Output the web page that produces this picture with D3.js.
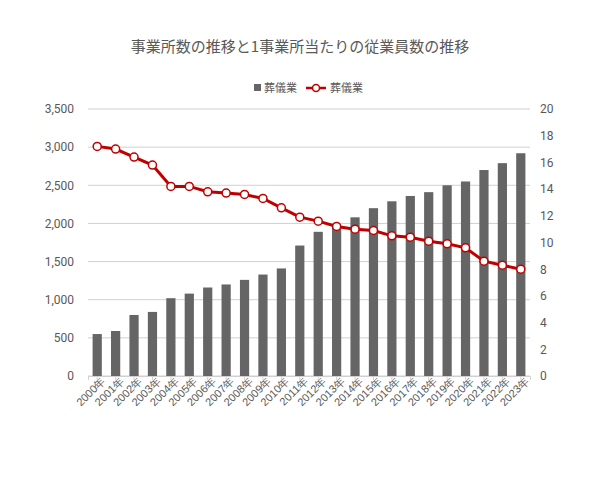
<!DOCTYPE html>
<html><head><meta charset="utf-8">
<script src="https://cdn.jsdelivr.net/npm/d3@7"></script>
<style>body{margin:0;background:#fff;font-family:"Noto Sans CJK JP","Noto Sans",sans-serif;}</style>
</head><body>
<svg id="chart" width="600" height="480"></svg>
<script>
const years = ["2000年","2001年","2002年","2003年","2004年","2005年","2006年","2007年","2008年","2009年","2010年","2011年","2012年","2013年","2014年","2015年","2016年","2017年","2018年","2019年","2020年","2021年","2022年","2023年"];
const offices = [550,590,800,840,1020,1080,1160,1200,1260,1330,1410,1710,1890,1970,2080,2200,2290,2360,2410,2500,2550,2700,2790,2920];
const perOffice = [17.2,17.0,16.4,15.8,14.2,14.2,13.8,13.7,13.6,13.3,12.6,11.9,11.6,11.2,11.0,10.9,10.5,10.4,10.1,9.9,9.6,8.6,8.3,8.0];
const leftTicks = [0,500,1000,1500,2000,2500,3000,3500];
const rightTicks = [0,2,4,6,8,10,12,14,16,18,20];

const svg = d3.select("#chart");
const mLeft = 88, mRight = 530, mTop = 109, mBottom = 376;

//Scales
const x = d3.scaleBand().domain(years).range([mLeft, mRight]).paddingInner(0.5).paddingOuter(0.25);
const yL = d3.scaleLinear().domain([0, 3500]).range([mBottom, mTop]);
const yR = d3.scaleLinear().domain([0, 20]).range([mBottom, mTop]);

//Title
svg.append("text").attr("x", 300).attr("y", 52).attr("text-anchor", "middle")
  .attr("font-size", 15).attr("fill", "#595959")
  .text("事業所数の推移と1事業所当たりの従業員数の推移");

//Legend
const lg = svg.append("g").attr("font-size", 11).attr("fill", "#595959");
lg.append("rect").attr("x", 254).attr("y", 84).attr("width", 7).attr("height", 7).attr("fill", "#656565");
lg.append("text").attr("x", 264).attr("y", 92).text("葬儀業");
lg.append("line").attr("x1", 306).attr("x2", 326).attr("y1", 88).attr("y2", 88).attr("stroke", "#c00000").attr("stroke-width", 2.5);
lg.append("circle").attr("cx", 316).attr("cy", 88).attr("r", 3.5).attr("fill", "#fff").attr("stroke", "#c00000").attr("stroke-width", 1.5);
lg.append("text").attr("x", 330).attr("y", 92).text("葬儀業");

//Grid
svg.append("g").selectAll("line").data(leftTicks).join("line")
  .attr("x1", mLeft).attr("x2", mRight).attr("y1", d => yL(d)).attr("y2", d => yL(d))
  .attr("stroke", "#d0d0d0").attr("stroke-width", 1);

//Axes
const axL = svg.append("g").attr("transform", `translate(${mLeft},0)`)
  .call(d3.axisLeft(yL).tickValues(leftTicks).tickSize(0).tickPadding(14));
const axR = svg.append("g").attr("transform", `translate(${mRight},0)`)
  .call(d3.axisRight(yR).tickValues(rightTicks).tickSize(0).tickPadding(10));
[axL, axR].forEach(a => {
  a.select(".domain").remove();
  a.selectAll("text").attr("fill", "#595959").attr("font-size", 12).attr("font-family", "Roboto, sans-serif");
});

const axX = svg.append("g").attr("transform", `translate(0,${mBottom})`)
  .call(d3.axisBottom(x).tickSize(4));
axX.select(".domain").attr("stroke", "#d0d0d0");
axX.selectAll(".tick line").attr("stroke", "#d0d0d0");
axX.selectAll("text").attr("fill", "#595959").attr("font-size", 11)
  .attr("text-anchor", "end").attr("dx", "0.2em").attr("dy", "0.3em")
  .attr("transform", "rotate(-45)");

//Bars
svg.append("g").selectAll("rect").data(offices).join("rect")
  .attr("x", (d, i) => x(years[i])).attr("width", x.bandwidth())
  .attr("y", d => yL(d)).attr("height", d => mBottom - yL(d))
  .attr("fill", "#656565");

//Line
const cx = i => x(years[i]) + x.bandwidth() / 2;
svg.append("path").datum(perOffice)
  .attr("d", d3.line().x((d, i) => cx(i)).y(d => yR(d)))
  .attr("fill", "none").attr("stroke", "#c00000").attr("stroke-width", 3);
svg.append("g").selectAll("circle").data(perOffice).join("circle")
  .attr("cx", (d, i) => cx(i)).attr("cy", d => yR(d)).attr("r", 4)
  .attr("fill", "#fff").attr("stroke", "#c00000").attr("stroke-width", 1.5);
</script>
</body></html>
